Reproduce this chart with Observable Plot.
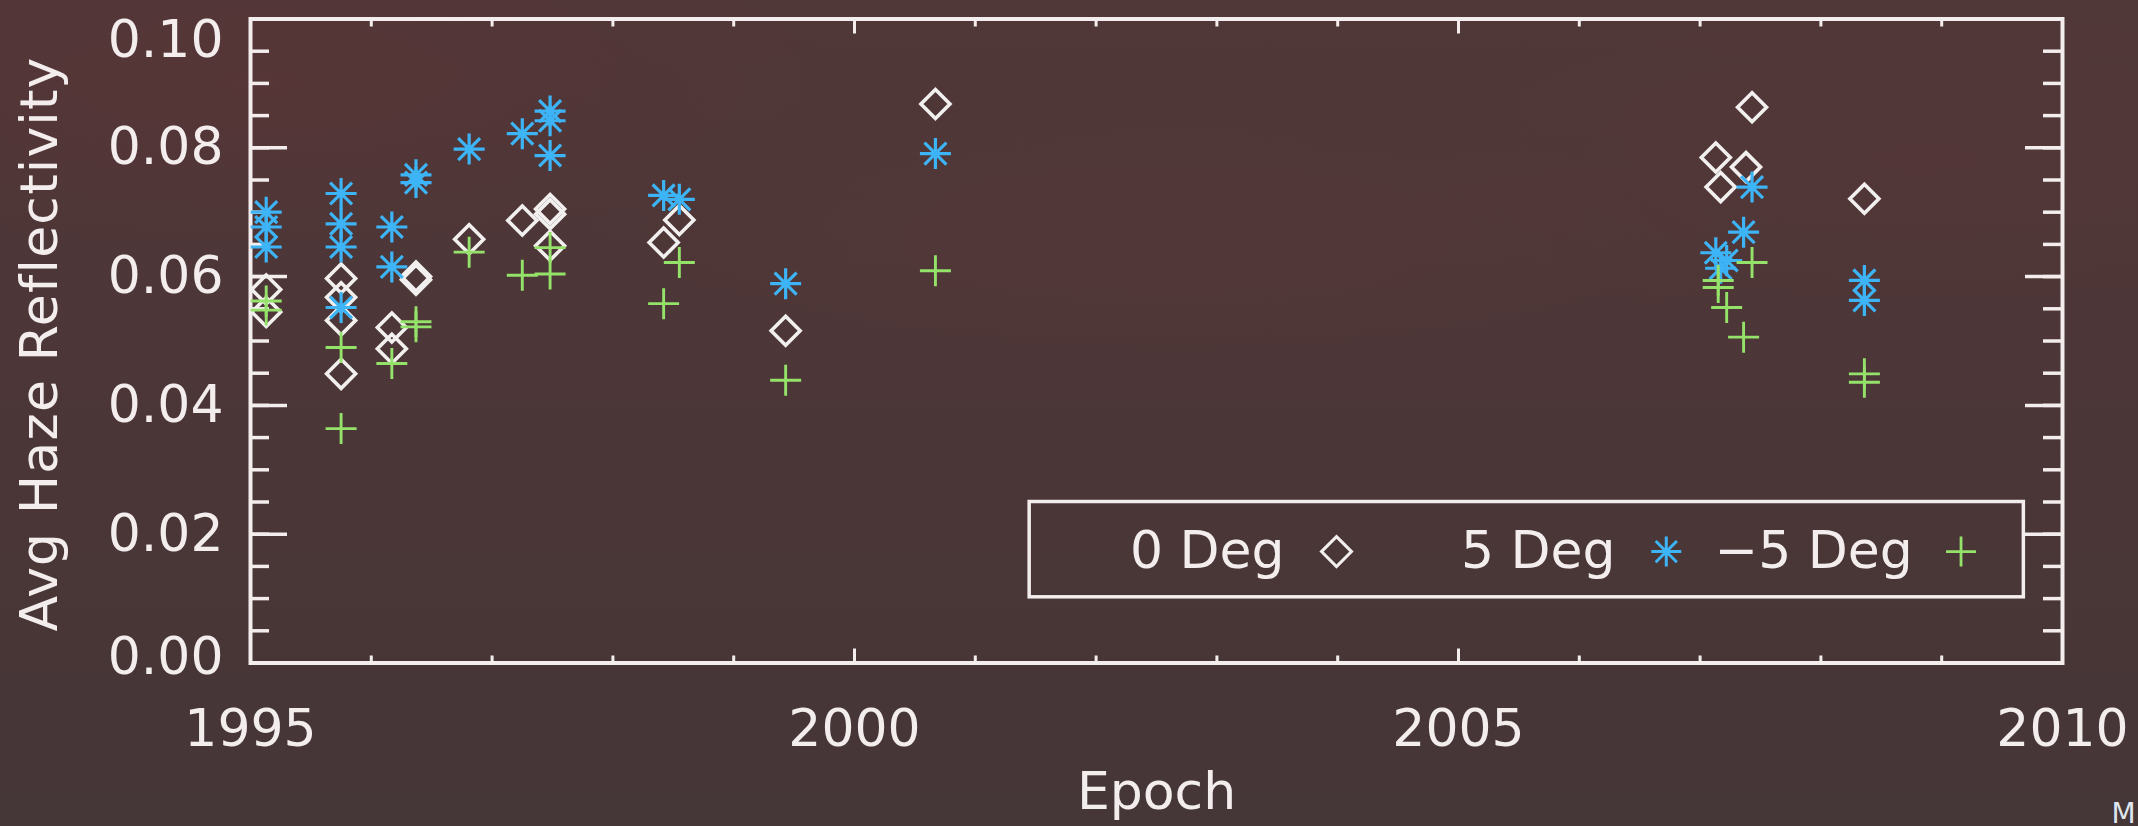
<!DOCTYPE html>
<html>
<head>
<meta charset="utf-8">
<script src="https://cdn.jsdelivr.net/npm/d3@7"></script>
<script src="https://cdn.jsdelivr.net/npm/@observablehq/plot@0.6"></script>
<style>
  html, body { margin: 0; padding: 0; width: 2138px; height: 826px; overflow: hidden; }
  body {
    background:
      radial-gradient(ellipse 40% 30% at 12% 10%, rgba(110, 50, 52, 0.22), rgba(0,0,0,0) 70%),
      radial-gradient(ellipse 40% 25% at 55% 30%, rgba(110, 58, 58, 0.16), rgba(0,0,0,0) 70%),
      radial-gradient(ellipse 35% 30% at 90% 20%, rgba(105, 55, 55, 0.16), rgba(0,0,0,0) 70%),
      linear-gradient(180deg, #503738 0%, #4b3637 55%, #453637 100%);
  }
  #chart { position: absolute; left: 0; top: 0; }
  .ytitle text { letter-spacing: 1.2px; }
</style>
</head>
<body>
<div id="chart"></div>
<script>
// Average haze reflectivity by epoch (decimal year) for three scan angles
const epochs0 = [1995.13, 1995.13, 1995.75, 1995.75, 1995.75, 1995.75, 1996.17, 1996.17, 1996.37, 1996.37,
  1996.81, 1997.25, 1997.48, 1997.48, 1997.48, 1998.42, 1998.55, 1999.43, 2000.67,
  2007.13, 2007.17, 2007.38, 2007.43, 2008.36];
const refl0 = [0.0580, 0.0545, 0.0597, 0.0568, 0.0532, 0.0449, 0.0521, 0.0488, 0.0600, 0.0595,
  0.0658, 0.0687, 0.0705, 0.0697, 0.0648, 0.0653, 0.0688, 0.0516, 0.0868,
  0.0785, 0.0739, 0.0770, 0.0863, 0.0721];

const epochs5 = [1995.13, 1995.13, 1995.13, 1995.75, 1995.75, 1995.75, 1995.75, 1996.17, 1996.17,
  1996.37, 1996.37, 1996.81, 1997.25, 1997.48, 1997.48, 1997.48, 1998.42, 1998.55, 1999.43, 2000.67,
  2007.13, 2007.17, 2007.22, 2007.36, 2007.43, 2008.36, 2008.36];
const refl5 = [0.0700, 0.0677, 0.0646, 0.0729, 0.0682, 0.0646, 0.0552, 0.0677, 0.0615,
  0.0758, 0.0746, 0.0798, 0.0822, 0.0857, 0.0842, 0.0788, 0.0726, 0.0720, 0.0589, 0.0791,
  0.0637, 0.0613, 0.0625, 0.0669, 0.0739, 0.0594, 0.0563];

const epochsM5 = [1995.13, 1995.13, 1995.75, 1995.75, 1996.17, 1996.37, 1996.37, 1996.81, 1997.25,
  1997.48, 1997.48, 1998.42, 1998.55, 1999.43, 2000.67,
  2007.15, 2007.15, 2007.22, 2007.36, 2007.43, 2008.36, 2008.36];
const reflM5 = [0.0562, 0.0548, 0.0490, 0.0364, 0.0465, 0.0530, 0.0522, 0.0638, 0.0602,
  0.0645, 0.0604, 0.0558, 0.0622, 0.0439, 0.0609,
  0.0594, 0.0583, 0.0552, 0.0506, 0.0622, 0.0449, 0.0436];

const seriesNames = ["0 Deg", "5 Deg", "\u22125 Deg"];
const xTickLabels = [1995, 2000, 2005, 2010];
const yTickLabels = [0, 0.02, 0.04, 0.06, 0.08, 0.10];
const xMinorTicks = d3.range(1995, 2011, 1);
const yMinorTicks = d3.range(0, 0.1001, 0.005);

// Layout
const W = 2138, H = 826;
const mL = 250, mR = 76, mT = 18.5, mB = 163.5;
const plotW = W - mL - mR, plotH = H - mT - mB;
const ink = "#f3eded";
const colors = {diamond: "#f2efef", star: "#3db4f6", plus: "#94e26a"};
const font = "DejaVu Sans";
// end labels of the y axis sit a little inside the frame
const yLabelShift = v => v === 0.10 ? 21 : v === 0 ? -6 : 0;

// Marker shapes
const diamond = {draw(c, s) { const r = Math.sqrt(s / Math.PI); c.moveTo(0, -r); c.lineTo(r, 0); c.lineTo(0, r); c.lineTo(-r, 0); c.closePath(); }};
const asterisk = {draw(c, s) {
  const r = Math.sqrt(s / Math.PI);
  for (const a of [0, 45, 90, 135]) {
    const t = a * Math.PI / 180, dx = r * Math.cos(t), dy = r * Math.sin(t);
    c.moveTo(dx, dy); c.lineTo(-dx, -dy);
  }
}};
const plus = {draw(c, s) { const r = Math.sqrt(s / Math.PI); c.moveTo(-r, 0); c.lineTo(r, 0); c.moveTo(0, -r); c.lineTo(0, r); }};

const rows = (ep, v, name) => ep.map((e, i) => ({epoch: e, refl: v[i], series: name}));
const data0 = rows(epochs0, refl0, seriesNames[0]);
const data5 = rows(epochs5, refl5, seriesNames[1]);
const dataM5 = rows(epochsM5, reflM5, seriesNames[2]);

// Legend box and entries, placed in data units like an in-plot legend
const legendBox = {x1: 2001.45, x2: 2009.68, y1: 0.0102, y2: 0.0250};
const legendY = 0.0173;
const legendEntries = [
  {label: seriesNames[0], textX: 2002.28, symX: 2003.99, symbol: diamond, color: colors.diamond, sw: 3},
  {label: seriesNames[1], textX: 2005.02, symX: 2006.72, symbol: asterisk, color: colors.star, sw: 3},
  {label: seriesNames[2], textX: 2007.12, symX: 2009.16, symbol: plus, color: colors.plus, sw: 2.8}
];

const chart = Plot.plot({
  width: W, height: H,
  marginLeft: mL, marginRight: mR, marginTop: mT, marginBottom: mB,
  x: {domain: [1995, 2010], axis: null},
  y: {domain: [0, 0.10], axis: null},
  style: {background: "transparent", color: ink, fontFamily: font, overflow: "visible"},
  marks: [
    Plot.frame({stroke: ink, strokeWidth: 4}),
    // inward ticks on all four sides
    Plot.ruleX(xMinorTicks.filter(d => d % 5), {x: d => d, insetTop: plotH - 7, stroke: ink, strokeWidth: 3}),
    Plot.ruleX(xMinorTicks.filter(d => d % 5), {x: d => d, insetBottom: plotH - 8, stroke: ink, strokeWidth: 3}),
    Plot.ruleX(xTickLabels, {x: d => d, insetTop: plotH - 14, stroke: ink, strokeWidth: 3}),
    Plot.ruleX(xTickLabels, {x: d => d, insetBottom: plotH - 15, stroke: ink, strokeWidth: 3}),
    Plot.ruleY(yMinorTicks, {y: d => d, insetRight: plotW - 19, stroke: ink, strokeWidth: 3.5}),
    Plot.ruleY(yMinorTicks, {y: d => d, insetLeft: plotW - 19, stroke: ink, strokeWidth: 3.5}),
    Plot.ruleY(yTickLabels, {y: d => d, insetRight: plotW - 37, stroke: ink, strokeWidth: 3.5}),
    Plot.ruleY(yTickLabels, {y: d => d, insetLeft: plotW - 37, stroke: ink, strokeWidth: 3.5}),
    // tick labels
    Plot.text(xTickLabels, {x: d => d, frameAnchor: "bottom", dy: 82.5, textAnchor: "middle", lineAnchor: "bottom", text: d => String(d), fontSize: 52, fill: ink}),
    ...yTickLabels.map(v => Plot.text([v], {y: d => d, frameAnchor: "left", dx: -27, dy: yLabelShift(v), textAnchor: "end", lineAnchor: "middle", text: d => d.toFixed(2), fontSize: 52, fill: ink})),
    // axis titles
    Plot.text(["Epoch"], {frameAnchor: "bottom", dy: 145.5, textAnchor: "middle", lineAnchor: "bottom", fontSize: 52, fill: ink}),
    Plot.text(["Avg Haze Reflectivity"], {className: "ytitle", frameAnchor: "left", dx: -194, dy: 3, rotate: -90, textAnchor: "middle", lineAnchor: "bottom", fontSize: 52, fill: ink}),
    // data
    Plot.dot(data0, {x: "epoch", y: "refl", symbol: diamond, r: 14.5, stroke: colors.diamond, strokeWidth: 3.6, fill: "none"}),
    Plot.dot(data5, {x: "epoch", y: "refl", symbol: asterisk, r: 15.5, stroke: colors.star, strokeWidth: 3.2, fill: "none"}),
    Plot.dot(dataM5, {x: "epoch", y: "refl", symbol: plus, r: 15.5, stroke: colors.plus, strokeWidth: 2.9, fill: "none"}),
    // legend
    Plot.rect([legendBox], {x1: "x1", x2: "x2", y1: "y1", y2: "y2", stroke: ink, strokeWidth: 3.5, fill: "none"}),
    Plot.text(legendEntries, {x: "textX", y: () => legendY, text: "label", textAnchor: "start", lineAnchor: "middle", fontSize: 52, fill: ink}),
    ...legendEntries.map(e => Plot.dot([e], {x: "symX", y: () => legendY, symbol: e.symbol, r: 15, stroke: e.color, strokeWidth: e.sw, fill: "none"})),
    // corner mark
    Plot.text(["M"], {frameAnchor: "bottom-right", dx: 49, dy: 160, textAnchor: "start", lineAnchor: "bottom", fontSize: 28, fill: "#dfe6ee"})
  ]
});

document.getElementById("chart").appendChild(chart);
</script>
</body>
</html>
